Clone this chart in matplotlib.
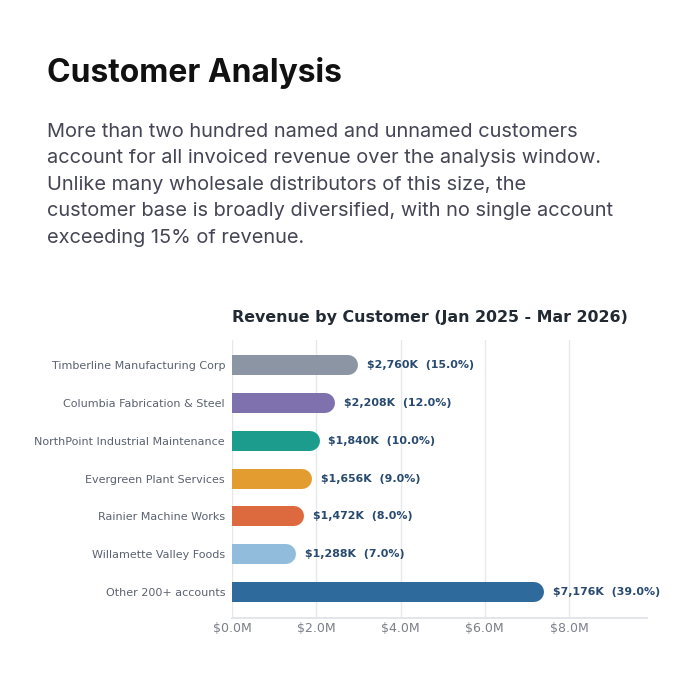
import matplotlib
matplotlib.use("Agg")
import matplotlib.pyplot as plt

customers = ["Timberline Manufacturing Corp", "Columbia Fabrication & Steel",
             "NorthPoint Industrial Maintenance", "Evergreen Plant Services",
             "Rainier Machine Works", "Willamette Valley Foods", "Other 200+ accounts"]
revenue_k = [2760, 2208, 1840, 1656, 1472, 1288, 7176]
shares = [15.0, 12.0, 10.0, 9.0, 8.0, 7.0, 39.0]
colors = ["#8b95a3", "#7f70ae", "#1b9c8c", "#e29c30", "#dc6a3e", "#92bcdc", "#2e6b9c"]
xticks = [0, 2, 4, 6, 8]
xtick_labels = ["$0.0M", "$2.0M", "$4.0M", "$6.0M", "$8.0M"]

fig = plt.figure(figsize=(7, 7), dpi=100)
fig.patch.set_facecolor("white")

fig.text(47/700, 1-73/700, "Customer Analysis", family="Inter", weight="bold",
         fontsize=22.9, color="#111111", va="center", ha="left")
para = ("More than two hundred named and unnamed customers\n"
        "account for all invoiced revenue over the analysis window.\n"
        "Unlike many wholesale distributors of this size, the\n"
        "customer base is broadly diversified, with no single account\n"
        "exceeding 15% of revenue.")
fig.text(47/700, 1-123/700, para, family="Inter", fontsize=14.4, color="#454555",
         va="top", ha="left", linespacing=1.6)

ax = fig.add_axes([232/700, 1-618/700, (647-232)/700, (618-340)/700])
vals_m = [v/1000 for v in revenue_k]
ys = list(range(len(customers)))
ax.hlines(ys, 0, vals_m, colors=colors, linewidth=14.4, capstyle="round", zorder=3)
for y, v, s in zip(ys, vals_m, shares):
    ax.annotate(f"${v*1000:,.0f}K  ({s:.1f}%)", xy=(v, y), xytext=(13.5, 0),
                textcoords="offset points", va="center", ha="left",
                fontsize=7.9, weight="bold", color="#284a70")
ax.set_xlim(0, 9.85)
ax.set_ylim(6.68, -0.66)
ax.set_yticks(ys)
ax.set_yticklabels(customers, fontsize=8, color="#5a6270")
ax.set_xticks(xticks)
ax.set_xticklabels(xtick_labels, fontsize=9, color="#7a7f88")
ax.tick_params(length=0, pad=5)
ax.tick_params(axis="x", pad=3)
for sp in ["top", "right", "left"]:
    ax.spines[sp].set_visible(False)
ax.spines["bottom"].set_color("#dde1e6")
ax.spines["bottom"].set_linewidth(1.2)
ax.grid(axis="x", color="#e6e8ec", linewidth=1, zorder=0)
ax.set_axisbelow(True)
ax.set_title("Revenue by Customer (Jan 2025 - Mar 2026)", loc="left", fontsize=11.4,
             weight="bold", color="#222a33", pad=13)

fig.savefig("out.png", dpi=100, facecolor="white")
